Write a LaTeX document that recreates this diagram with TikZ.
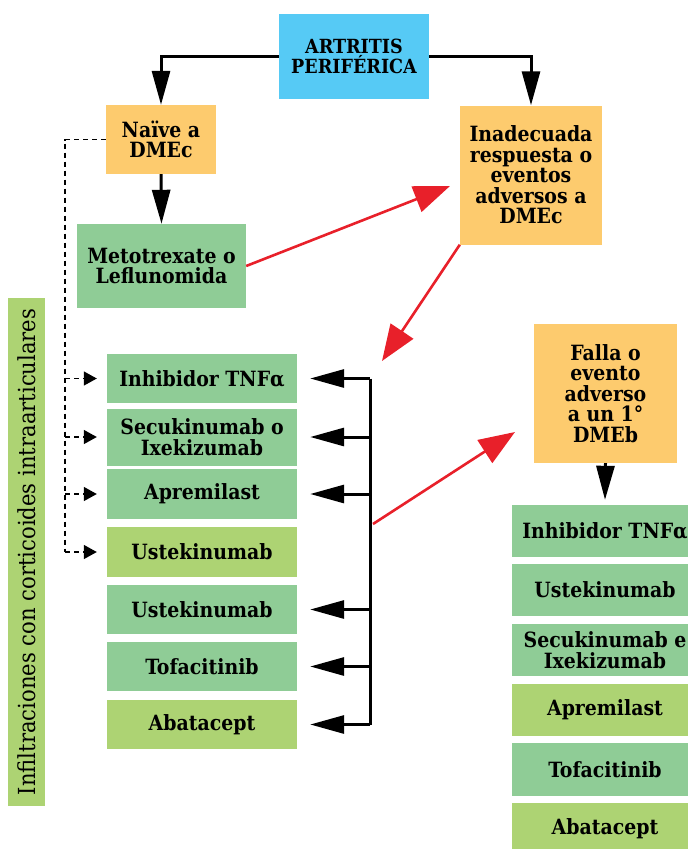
\documentclass[tikz,border=0pt]{standalone}
\usepackage{fontspec}
\setmainfont{DejaVu Serif Condensed}
\usetikzlibrary{arrows.meta,calc}
\definecolor{cblue}{HTML}{56CAF5}
\definecolor{corange}{HTML}{FDCB6E}
\definecolor{cgreen}{HTML}{8FCC96}
\definecolor{clight}{HTML}{ADD373}
\definecolor{cred}{HTML}{E8202A}
\begin{document}
\begin{tikzpicture}[x=1pt,y=-1pt,
  box/.style={inner sep=2pt,align=center,font=\fontsize{21}{20.5}\selectfont\bfseries,text=black},
  blk/.style={line width=3pt,-{Triangle[length=34pt,width=18pt]}},
  redarr/.style={cred,line width=2.6pt,-{Triangle[length=36pt,width=27pt]}},
  dsh/.style={line width=1.4pt,dash pattern=on 5pt off 4pt},
  dsharr/.style={line width=1.4pt,dash pattern=on 5pt off 4pt,-{Triangle[length=13pt,width=14pt]}}]
\useasboundingbox (0,0) rectangle (688,849);
% nodes
\node[box,fill=cblue,minimum width=150pt,minimum height=85pt,font=\fontsize{19.5}{20}\selectfont\bfseries] (top) at (354,56.5) {ARTRITIS\\PERIFÉRICA};
\node[box,fill=corange,minimum width=110pt,minimum height=69pt] (naive) at (161,139.5) {Naïve a\\DMEc};
\node[box,fill=cgreen,minimum width=169pt,minimum height=84pt] (meto) at (161.5,266) {Metotrexate o\\Leflunomida};
\node[box,fill=corange,minimum width=142pt,minimum height=139pt] (inad) at (531,175) {Inadecuada\\respuesta o\\eventos\\adversos a\\DMEc};
\node[box,fill=corange,minimum width=143pt,minimum height=139pt] (falla) at (605.5,393.5) {Falla o\\evento\\adverso\\a un 1°\\DMEb};
% left column
\node[box,fill=cgreen,minimum width=190pt,minimum height=49pt] (L1) at (202,378.5) {Inhibidor TNFα};
\node[box,fill=cgreen,minimum width=190pt,minimum height=57pt] (L2) at (202,437) {Secukinumab o\\Ixekizumab};
\node[box,fill=cgreen,minimum width=190pt,minimum height=50pt] (L3) at (202,494) {Apremilast};
\node[box,fill=clight,minimum width=190pt,minimum height=50pt] (L4) at (202,552) {Ustekinumab};
\node[box,fill=cgreen,minimum width=190pt,minimum height=49pt] (L5) at (202,609.5) {Ustekinumab};
\node[box,fill=cgreen,minimum width=190pt,minimum height=49pt] (L6) at (202,666.5) {Tofacitinib};
\node[box,fill=clight,minimum width=190pt,minimum height=49pt] (L7) at (202,724.5) {Abatacept};
% right column
\node[box,fill=cgreen,minimum width=186pt,minimum height=52pt] (R1) at (605,531) {Inhibidor TNFα};
\node[box,fill=cgreen,minimum width=186pt,minimum height=52pt] (R2) at (605,590) {Ustekinumab};
\node[box,fill=cgreen,minimum width=186pt,minimum height=52pt] (R3) at (605,650) {Secukinumab e\\Ixekizumab};
\node[box,fill=clight,minimum width=186pt,minimum height=52pt] (R4) at (605,710) {Apremilast};
\node[box,fill=cgreen,minimum width=186pt,minimum height=53pt] (R5) at (605,769.5) {Tofacitinib};
\node[box,fill=clight,minimum width=186pt,minimum height=52pt] (R6) at (605,829) {Abatacept};
% vertical label
\node[fill=clight,minimum width=37pt,minimum height=508pt,inner sep=0pt] (vbox) at (26.5,552) {};
\node[rotate=90,font=\fontsize{23.5}{24}\selectfont,inner sep=0pt] (vtext) at (vbox.center) {Infiltraciones con corticoides intraarticulares};
% black connectors
\draw[blk] (top.west) -| (naive.north);
\draw[blk] (top.east) -| (inad.north);
\draw[blk] (naive.south) -- (meto.north);
\draw[blk] (falla.south) -- ([yshift=5pt]R1.north);
% bracket
\coordinate (br) at (370,380);
\draw[line width=3pt] (br |- L1.east) -- (br |- L7.east);
\foreach \k in {L1,L2,L3,L5,L6,L7}{
  \draw[blk] (br |- \k.east) -- ([xshift=13pt]\k.east);
}
% dashed
\coordinate (dl) at (65,136);
\draw[dsh] (naive.west) -| (dl |- L4.west);
\foreach \k in {L1,L2,L3,L4}{
  \draw[dsharr] (dl |- \k.west) -- ([xshift=-10pt]\k.west);
}
% red arrows
\coordinate (r1) at (450,186);
\coordinate (r2) at (382,361);
\coordinate (r3s) at (373,524);
\coordinate (r3) at (515,432);
\draw[redarr] (meto.east) -- (r1);
\draw[redarr] (inad.south west) -- (r2);
\draw[redarr] (r3s) -- (r3);
\end{tikzpicture}
\end{document}
